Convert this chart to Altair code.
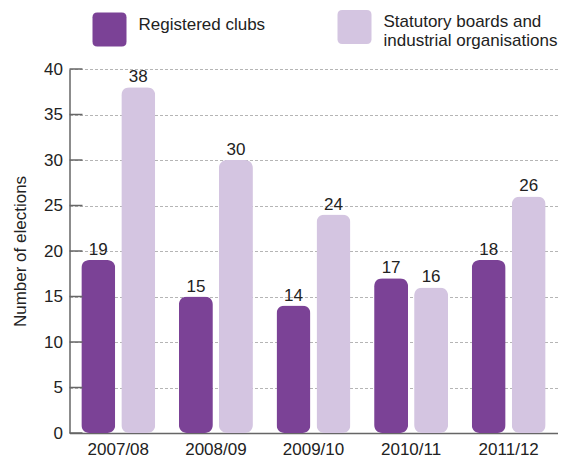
import altair as alt
import pandas as pd

years = ["2007/08", "2008/09", "2009/10", "2010/11", "2011/12"]
series = ["Registered clubs", "Statutory boards and industrial organisations"]
registered_values = [19, 15, 14, 17, 19]
registered_labels = [19, 15, 14, 17, 18]
statutory_values = [38, 30, 24, 16, 26]
statutory_labels = [38, 30, 24, 16, 26]
y_ticks = [0, 5, 10, 15, 20, 25, 30, 35, 40]
colors = ["#7b4296", "#d4c5e1"]

rows = []
for i, yr in enumerate(years):
    rows.append({"year": yr, "series": series[0], "value": registered_values[i], "label": str(registered_labels[i])})
    rows.append({"year": yr, "series": series[1], "value": statutory_values[i], "label": str(statutory_labels[i])})
df = pd.DataFrame(rows)
ticks_df = pd.DataFrame({"tick": y_ticks})

FONT = "Liberation Sans"
rounded = ("M -0.72,-1 L 0.72,-1 Q 1,-1 1,-0.72 L 1,0.72 Q 1,1 0.72,1 "
           "L -0.72,1 Q -1,1 -1,0.72 L -1,-0.72 Q -1,-1 -0.72,-1 Z")

x_enc = alt.X("year:N", sort=years, scale=alt.Scale(paddingInner=0, paddingOuter=0),
              axis=alt.Axis(title=None, labelAngle=0, ticks=False, labelFontSize=17,
                            labelPadding=8, domainColor="#666666", domainWidth=1.5,
                            labelColor="#222222", labelFont=FONT))
xoff = alt.XOffset("series:N", sort=series,
                   scale=alt.Scale(paddingInner=0.15, paddingOuter=0.295))
y_scale = alt.Scale(domain=[0, 40], nice=False)

bars = alt.Chart(df).mark_bar(cornerRadius=8).encode(
    x=x_enc,
    xOffset=xoff,
    y=alt.Y("value:Q", scale=y_scale,
            axis=alt.Axis(title="Number of elections", values=y_ticks, ticks=False,
                          labelFontSize=17, labelPadding=7, labelColor="#222222",
                          labelFont=FONT, titleFont=FONT, titleFontSize=17,
                          titleFontWeight="normal", titleColor="#222222", titlePadding=14,
                          domainColor="#666666", domainWidth=1.5,
                          grid=True, gridDash=[3, 2], gridColor="#b5b5b5", gridWidth=1)),
    color=alt.Color("series:N", sort=series,
                    scale=alt.Scale(domain=series, range=colors),
                    legend=alt.Legend(title=None, orient="none", legendX=23, legendY=-59,
                                      direction="horizontal", columns=2, columnPadding=72,
                                      symbolType=rounded, symbolSize=1156, symbolStrokeWidth=0,
                                      labelFontSize=17, labelFont=FONT, labelColor="#222222",
                                      labelOffset=12, labelLimit=400, padding=0,
                                      labelBaseline="alphabetic",
                                      labelExpr="datum.label == 'Statutory boards and industrial organisations' ? ['Statutory boards and', 'industrial organisations'] : datum.label")),
)

labels = alt.Chart(df).mark_text(baseline="alphabetic", dy=-5, fontSize=17, font=FONT,
                                 color="#222222").encode(
    x=alt.X("year:N", sort=years),
    xOffset=xoff,
    y=alt.Y("value:Q", scale=y_scale),
    text="label:N",
)

tick_marks = alt.Chart(ticks_df).mark_rule(color="#666666", strokeWidth=1.5).encode(
    x=alt.value(0), x2=alt.value(13),
    y=alt.Y("tick:Q", scale=y_scale),
)

chart = alt.layer(bars, tick_marks, labels).properties(
    width=488, height=364,
    autosize=alt.AutoSizeParams(type="none"),
    padding={"left": 61.5, "top": 61, "right": 0, "bottom": 30},
).configure_view(stroke=None)

chart.save("out.html", embed_options={"renderer": "svg", "actions": False})
